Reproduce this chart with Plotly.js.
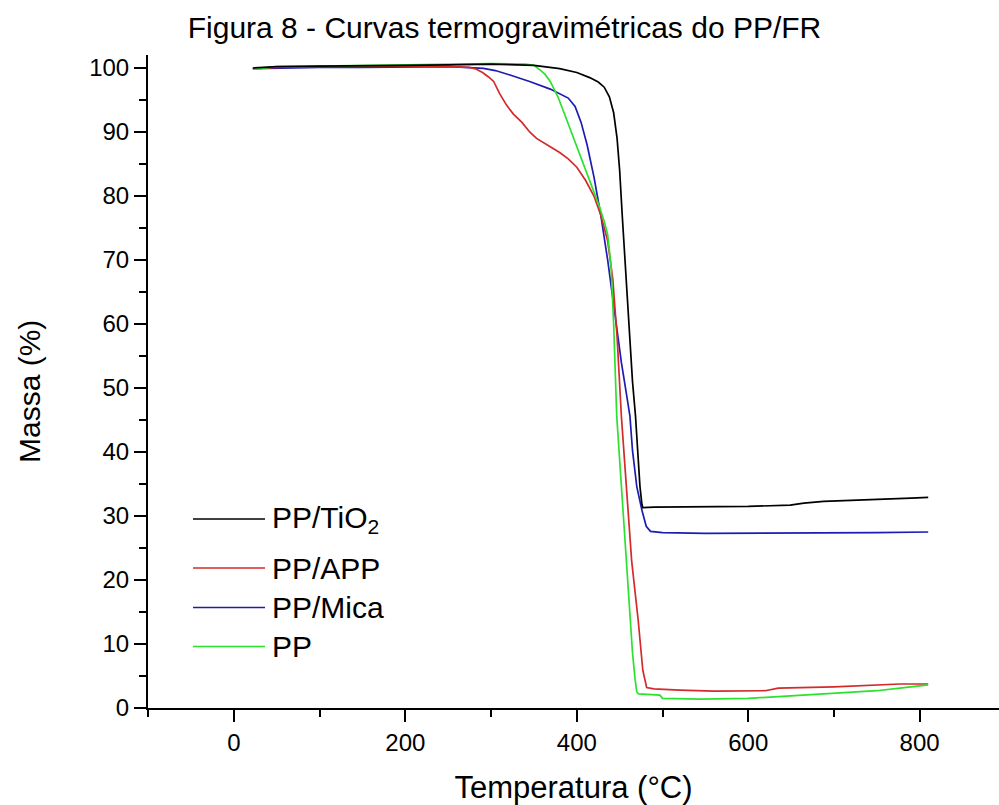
<!DOCTYPE html>
<html>
<head>
<meta charset="utf-8">
<script src="https://cdn.plot.ly/plotly-3.0.1.min.js"></script>
<style>html,body{margin:0;padding:0;background:#fff;overflow:hidden;}#chart{width:999px;height:805px;}</style>
</head>
<body>
<div id="chart"></div>
<script>
// Temperatura (°C) and Massa (%)
const tTiO2 = [22, 50, 100, 150, 200, 250, 300, 350, 380, 400, 415, 425, 432, 438, 443, 447, 450, 453, 456, 459, 462, 465, 468.5, 471, 473.7, 476, 477, 490, 550, 600, 649, 665, 688, 739, 790, 810];
const mTiO2 = [100.0, 100.2, 100.3, 100.3, 100.4, 100.5, 100.6, 100.4, 99.9, 99.3, 98.5, 97.8, 97.0, 95.5, 93.0, 89.0, 84.0, 77.0, 70.0, 63.0, 57.0, 51.0, 45.6, 40.0, 34.6, 31.8, 31.3, 31.4, 31.4, 31.5, 31.7, 32.0, 32.3, 32.6, 32.8, 32.9];

const tAPP = [22, 50, 100, 150, 200, 250, 275, 283, 290, 297, 303, 310, 318, 326, 336, 345, 353, 369, 380, 390, 400, 410, 420, 428, 436, 442, 447, 452, 458, 464, 471.6, 477, 481.5, 490, 520, 560, 620, 635, 700, 777, 810];
const mAPP = [99.9, 100.1, 100.2, 100.3, 100.3, 100.2, 100.1, 99.8, 99.3, 98.6, 97.9, 96.0, 94.2, 92.8, 91.5, 90.0, 89.0, 87.7, 86.8, 85.8, 84.5, 82.5, 80.0, 77.0, 73.0, 67.0, 58.0, 45.6, 34.0, 23.0, 13.75, 5.9, 3.2, 3.0, 2.8, 2.65, 2.7, 3.1, 3.3, 3.75, 3.75];

const tMica = [22, 50, 100, 150, 200, 252, 291, 305, 322, 345, 369, 380, 390, 398, 405, 412, 420, 428, 436, 444, 452, 458, 462, 465, 470, 476, 481, 486, 500, 550, 600, 650, 700, 750, 810];
const mMica = [99.9, 100.0, 100.1, 100.1, 100.2, 100.2, 99.95, 99.6, 98.9, 97.9, 96.7, 96.0, 95.3, 94.0, 91.5, 88.0, 83.0, 77.0, 70.0, 62.0, 54.0, 49.0, 45.6, 40.2, 34.6, 30.9, 28.4, 27.6, 27.4, 27.3, 27.3, 27.3, 27.4, 27.4, 27.5];

const tPP = [22, 50, 100, 150, 200, 250, 300, 340, 350, 357, 363, 369, 378, 388, 398, 408, 418, 426, 432, 436, 440, 443, 446.6, 452, 457, 462, 465, 468, 470, 472, 497, 500, 544, 600, 650, 700, 750, 777, 810];
const mPP = [99.8, 100.2, 100.3, 100.4, 100.5, 100.6, 100.7, 100.6, 100.4, 99.7, 99.0, 97.9, 95.5, 92.0, 88.5, 85.0, 81.5, 78.5, 76.0, 74.0, 69.0, 60.0, 45.6, 35.0, 24.0, 13.75, 8.6, 4.5, 2.5, 2.2, 2.0, 1.5, 1.4, 1.5, 1.9, 2.3, 2.7, 3.1, 3.6];

const seriesNames = ['PP/TiO<sub>2</sub>', 'PP/APP', 'PP/Mica', 'PP'];
const seriesColors = ['#000000', '#d42a2a', '#1c1cb4', '#2ee02e'];
const seriesT = [tTiO2, tAPP, tMica, tPP];
const seriesM = [mTiO2, mAPP, mMica, mPP];

const FONT = 'Liberation Sans, Arial, sans-serif';
const W = 999, H = 805;
const M = {l: 148, r: 0, t: 55, b: 97};
const pw = W - M.l - M.r, ph = H - M.t - M.b;
const px = v => (v - M.l) / pw;
const py = v => (H - M.b - v) / ph;

const order = [2, 1, 3, 0];
const traces = order.map(i => ({
  x: seriesT[i], y: seriesM[i], type: 'scatter', mode: 'lines',
  name: seriesNames[i], showlegend: false,
  line: {color: seriesColors[i], width: 1.7}
}));

const legendRows = [519, 568, 607.5, 646.5];
const shapes = [], annotations = [];
seriesNames.forEach((n, i) => {
  shapes.push({type: 'line', xref: 'paper', yref: 'paper',
    x0: px(193), x1: px(265), y0: py(legendRows[i]), y1: py(legendRows[i]),
    line: {color: seriesColors[i], width: 1.7}});
  annotations.push({xref: 'paper', yref: 'paper', x: px(270), y: py(legendRows[i]),
    xanchor: 'left', yanchor: 'middle', showarrow: false, text: n,
    font: {family: FONT, size: 30, color: '#000'}});
});
// y-axis title
annotations.push({xref: 'paper', yref: 'paper', x: px(29), y: py(392), xanchor: 'center', yanchor: 'middle',
  showarrow: false, textangle: -90, text: 'Massa (%)', font: {family: FONT, size: 30, color: '#000'}});

const layout = {
  width: W, height: H, margin: M,
  paper_bgcolor: '#fff', plot_bgcolor: '#fff',
  font: {family: FONT, color: '#000'},
  title: {text: 'Figura 8 - Curvas termogravimétricas do PP/FR', xref: 'container', x: 0.505, xanchor: 'center',
    yref: 'container', y: 1 - 27 / H, yanchor: 'middle', font: {family: FONT, size: 30, color: '#000'}},
  xaxis: {range: [-100.3, 892.6], showline: true, linecolor: '#000', linewidth: 2,
    ticks: 'outside', ticklen: 12, tickwidth: 2, tickcolor: '#000',
    tick0: 0, dtick: 200, showgrid: false, zeroline: false,
    tickfont: {family: FONT, size: 24, color: '#000'},
    minor: {dtick: 100, ticks: 'outside', ticklen: 7, tickwidth: 2, tickcolor: '#000', showgrid: false},
    title: {text: 'Temperatura (°C)', font: {family: FONT, size: 31, color: '#000'}, standoff: 22}},
  yaxis: {range: [0, 102.03], showline: true, linecolor: '#000', linewidth: 2,
    ticks: 'outside', ticklen: 12, tickwidth: 2, tickcolor: '#000',
    tick0: 0, dtick: 10, showgrid: false, zeroline: false,
    tickfont: {family: FONT, size: 24, color: '#000'},
    minor: {dtick: 5, ticks: 'outside', ticklen: 7, tickwidth: 2, tickcolor: '#000', showgrid: false}},
  shapes: shapes, annotations: annotations
};

Plotly.newPlot('chart', traces, layout, {displayModeBar: false, staticPlot: true});
</script>
</body>
</html>
